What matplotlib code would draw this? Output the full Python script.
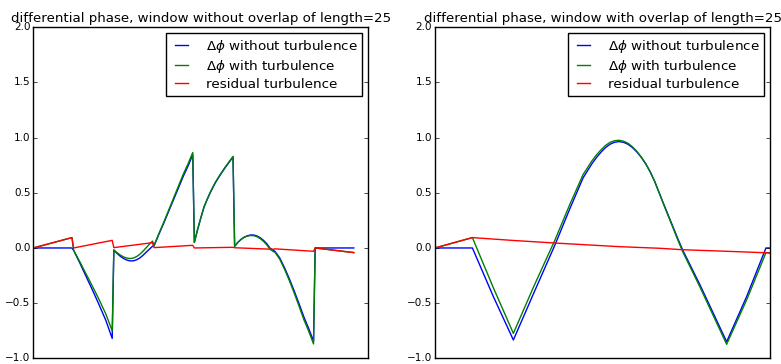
import matplotlib
matplotlib.use("Agg")
import matplotlib.pyplot as plt

# ── Data ────────────────────────────────────────────────────
# left panel: windows without overlap, length 25
LEFT_X = [0, 24,
          25, 29, 33, 37, 41, 45, 49,
          50, 52, 54, 56, 58, 60, 62, 64, 66, 68, 70, 72, 74,
          75, 78, 81, 84, 87, 90, 93, 96, 99,
          100, 102, 104, 106, 108, 110, 113, 116, 119, 122, 124,
          125, 127, 129, 131, 133, 135, 137, 139, 141, 143, 145, 147, 149,
          150, 153, 156, 159, 162, 165, 168, 171, 174,
          175, 199]
LEFT_BLUE = [0, 0,
             -0.02, -0.14, -0.265, -0.39, -0.52, -0.655, -0.82,
             -0.02, -0.05, -0.075, -0.095, -0.109, -0.117, -0.117, -0.108,
             -0.092, -0.068, -0.04, -0.012, 0.015,
             0.02, 0.125, 0.225, 0.33, 0.435, 0.54, 0.645, 0.74, 0.845,
             0.05, 0.165, 0.27, 0.37, 0.44, 0.505, 0.59, 0.66, 0.725, 0.785, 0.825,
             0.015, 0.05, 0.078, 0.098, 0.111, 0.118, 0.117, 0.108, 0.092,
             0.068, 0.038, -0.002, -0.02,
             -0.03, -0.09, -0.18, -0.28, -0.39, -0.505, -0.625, -0.73, -0.845,
             0.0, 0.0]
LEFT_GREEN = [0, 0.094,
              -0.02, -0.128, -0.242, -0.355, -0.473, -0.597, -0.751,
              -0.017, -0.043, -0.064, -0.081, -0.091, -0.096, -0.092, -0.079,
              -0.059, -0.031, 0.001, 0.033, 0.062,
              0.023, 0.131, 0.233, 0.341, 0.449, 0.557, 0.665, 0.76, 0.865,
              0.05, 0.168, 0.274, 0.374, 0.444, 0.51, 0.595, 0.665, 0.73, 0.79, 0.83,
              0.017, 0.051, 0.078, 0.097, 0.108, 0.113, 0.111, 0.101, 0.084,
              0.059, 0.028, -0.012, -0.032,
              -0.038, -0.101, -0.193, -0.296, -0.409, -0.527, -0.65, -0.755, -0.87,
              0.0, -0.042]
LEFT_RED_X = [0, 24, 25, 49, 50, 74, 75, 99, 100, 124, 125, 149, 150, 174, 175, 199]
LEFT_RED = [0, 0.094, 0.0, 0.069, 0.003, 0.048, 0.003, 0.024,
            0.0, 0.006, 0.002, -0.012, -0.008, -0.03, 0.0, -0.042]

# right panel: windows with overlap, length 25
RIGHT_X = [0, 25, 39, 52.4, 66, 80.2, 90.3, 96, 99, 102, 105, 108, 111, 114,
           117, 120, 123, 126, 129, 132, 135, 138, 141, 144, 147, 152.7,
           162.7, 165.6, 177.2, 195, 208.4, 221.3, 224]
RIGHT_BLUE = [0, 0, -0.44, -0.834, -0.41, 0.027, 0.36, 0.54, 0.635, 0.70,
              0.765, 0.82, 0.868, 0.91, 0.94, 0.958, 0.964, 0.958, 0.94, 0.91,
              0.87, 0.82, 0.76, 0.687, 0.60, 0.405,
              0.073, -0.018, -0.335, -0.85, -0.44, 0.0, 0.0]
RIGHT_GREEN = [0, 0.094, -0.36, -0.774, -0.35, 0.072, 0.40, 0.573, 0.665,
               0.728, 0.791, 0.844, 0.889, 0.929, 0.957, 0.972, 0.976, 0.968,
               0.949, 0.917, 0.875, 0.823, 0.762, 0.687, 0.599, 0.401,
               0.062, -0.033, -0.355, -0.873, -0.47, -0.042, -0.045]
RIGHT_RED_X = [0, 25, 52.4, 82.4, 123, 150.5, 165.6, 195, 224]
RIGHT_RED = [0, 0.094, 0.068, 0.043, 0.012, -0.003, -0.016, -0.03, -0.045]

TITLES = ["differential phase, window without overlap of length=25",
          "differential phase, window with overlap of length=25"]
LABELS = [r"$\Delta\phi$ without turbulence",
          r"$\Delta\phi$ with turbulence",
          "residual turbulence"]
YTICKS = [-1.0, -0.5, 0.0, 0.5, 1.0, 1.5, 2.0]

# ── Style ───────────────────────────────────────────────────
plt.style.use("classic")
plt.rcParams["mathtext.fontset"] = "dejavusans"
plt.rcParams["font.family"] = ["DejaVu Sans"]

fig = plt.figure(figsize=(7.81, 3.64), dpi=100, facecolor="white")
ax1 = fig.add_axes([33.3 / 781, 1 - 358.3 / 364, 335 / 781, 331 / 364])
ax2 = fig.add_axes([435 / 781, 1 - 358.3 / 364, 335 / 781, 331 / 364])

panels = [
    (ax1, LEFT_X, LEFT_BLUE, LEFT_GREEN, LEFT_RED_X, LEFT_RED, 208),
    (ax2, RIGHT_X, RIGHT_BLUE, RIGHT_GREEN, RIGHT_RED_X, RIGHT_RED, 224),
]

for i, (ax, x, blue, green, rx, red, xmax) in enumerate(panels):
    ax.plot(x, blue, color="b", linewidth=1.0, label=LABELS[0])
    ax.plot(x, green, color="g", linewidth=1.0, label=LABELS[1])
    ax.plot(rx, red, color="r", linewidth=1.0, label=LABELS[2])
    ax.set_xlim(0, xmax)
    ax.set_ylim(-1.0, 2.0)
    ax.set_xticks([])
    ax.set_yticks(YTICKS)
    ax.tick_params(axis="y", labelsize=7.5, length=3, direction="in",
                   left=True, right=True, pad=2)
    ax.set_title(TITLES[i], fontsize=9.6, pad=4)
    ax.legend(loc="upper right", fontsize=9.7, handlelength=1.6,
              borderaxespad=0.45, borderpad=0.35, labelspacing=0.22,
              handletextpad=1.0)

fig.savefig("out.png", dpi=100, facecolor="white")
